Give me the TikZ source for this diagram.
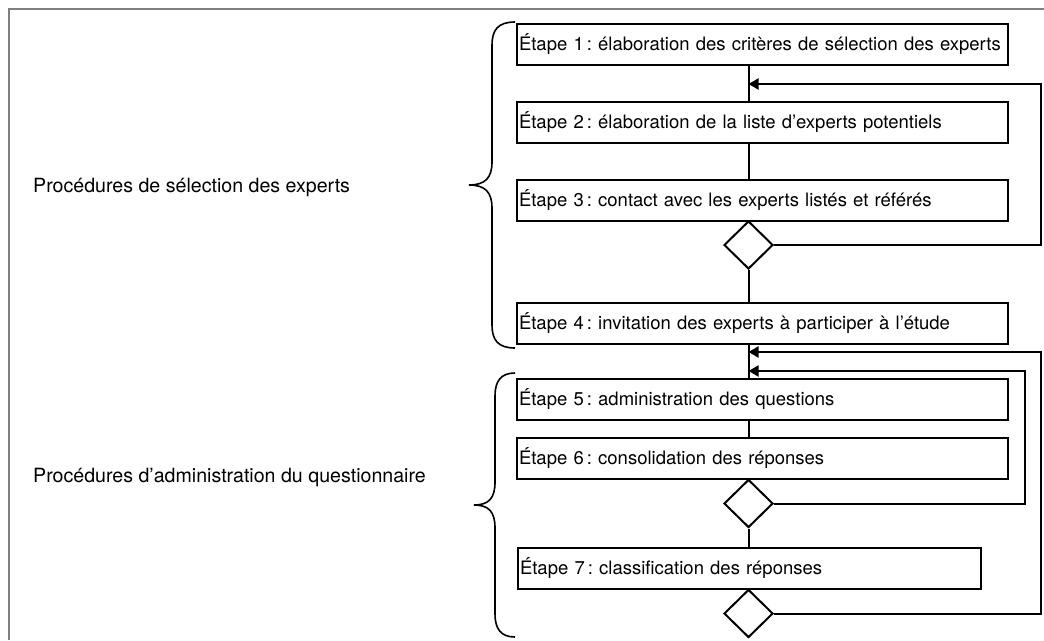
\documentclass[tikz,border=0pt]{standalone}
\usepackage{fontspec}
\setmainfont{TeX Gyre Heros}
\usetikzlibrary{shapes.geometric,arrows.meta}
\begin{document}
\frenchspacing
\begin{tikzpicture}[x=1pt,y=-1pt,
  stepbox/.style={draw, line width=2pt, rectangle, inner xsep=2pt, inner ysep=0pt, minimum height=41pt, text width=#1, align=left, font=\fontsize{18.5}{21}\selectfont\frenchspacing},
  dec/.style={draw, diamond, line width=2pt, minimum width=49pt, minimum height=48pt, inner sep=0pt},
  conn/.style={line width=2pt},
  arr/.style={conn, -{Triangle[length=10pt,width=11pt]}},
  brace/.style={line width=1.6pt},
  lbl/.style={anchor=west, font=\fontsize{19.6}{22}\selectfont\frenchspacing, inner sep=0pt}]
\useasboundingbox (0,0) rectangle (1044,640);
\draw[color={rgb,255:red,128;green,128;blue,128}, line width=2pt] (9,640) -- (9,9) -- (1044,9);

\node[stepbox=487pt] (b1) at (762.5,44.5) {Étape 1\,: élaboration des critères de sélection des experts};
\node[stepbox=487pt] (b2) at (762.5,122.5) {Étape 2\,: élaboration de la liste d’experts potentiels};
\node[stepbox=487pt] (b3) at (762.5,200.5) {Étape 3\,: contact avec les experts listés et référés};
\node[dec] (d1) at (748.5,245) {};
\node[stepbox=487pt] (b4) at (762.5,323.5) {Étape 4\,: invitation des experts à participer à l’étude};
\node[stepbox=487pt] (b5) at (762.5,399) {Étape 5\,: administration des questions};
\node[stepbox=487pt] (b6) at (762.5,458.5) {Étape 6\,: consolidation des réponses};
\node[dec] (d2) at (748.5,503.5) {};
\node[stepbox=459pt] (b7) at (749.5,568.5) {Étape 7\,: classification des réponses};
\node[dec] (d3) at (748.5,613.5) {};

\node[lbl] (l1) at (33,187) {Procédures de sélection des experts};
\node[lbl] (l2) at (33,477) {Procédures d’administration du questionnaire};

\coordinate (st) at (748.5,0);
\draw[conn] (b1.south -| st) -- (b2.north -| st);
\draw[conn] (b2.south -| st) -- (b3.north -| st);
\draw[conn] (d1.south) -- (b4.north -| st);
\draw[conn] (b4.south -| st) -- (b5.north -| st);
\draw[conn] (b5.south -| st) -- (b6.north -| st);
\draw[conn] (d2.south) -- (b7.north -| st);

\coordinate (r1) at (1041,84);
\coordinate (r2) at (1041,352);
\coordinate (r3) at (1025,371);
\draw[arr] (d1.east) -| (r1) -- (r1 -| st);
\draw[arr] (d3.east) -| (r2) -- (r2 -| st);
\draw[arr] (d2.east) -| (r3) -- (r3 -| st);

\draw[brace] (515,22) .. controls (498,22) and (492,30) .. (492,45) -- (492,162) .. controls (492,178) and (485,185) .. (469,185) .. controls (485,185) and (492,192) .. (492,208) -- (492,325) .. controls (492,340) and (498,348) .. (515,348);
\draw[brace] (515,373) .. controls (501,373) and (495,381) .. (495,396) -- (495,482) .. controls (495,498) and (489,505) .. (474,505) .. controls (489,505) and (495,512) .. (495,528) -- (495,614) .. controls (495,629) and (501,637) .. (515,637);
\end{tikzpicture}
\end{document}
